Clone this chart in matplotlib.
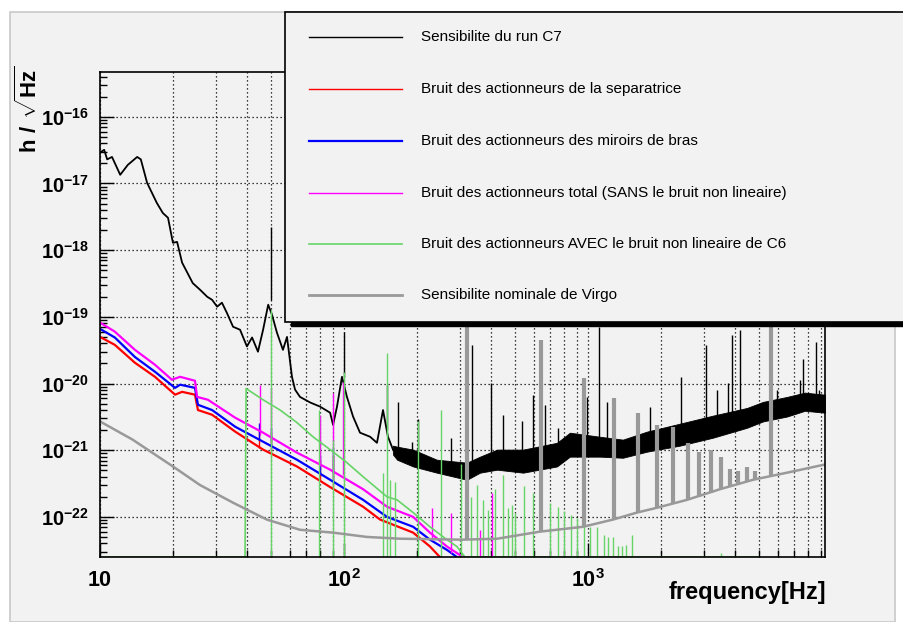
import numpy as np
import matplotlib
matplotlib.use("Agg")
import matplotlib.pyplot as plt
from matplotlib.patches import Rectangle
from matplotlib.lines import Line2D
from matplotlib.ticker import LogLocator, FixedLocator, FuncFormatter, NullFormatter

plt.rcParams['font.family'] = ['Liberation Sans', 'DejaVu Sans']
plt.rcParams['mathtext.fontset'] = 'custom'
plt.rcParams['mathtext.rm'] = 'Liberation Sans'
plt.rcParams['mathtext.bf'] = 'Liberation Sans:bold'

# Sensibilite du run C7 (low frequency part, single trace)
black_f = [10, 10.4, 10.7, 11.2, 12.1, 13.0, 14.2, 14.7, 15.6, 17.1, 18.1, 19.0, 19.9, 20.7, 21.7,
           24.0, 25.7, 27.5, 28.8, 30.2, 31.6, 33.1, 35.1, 37.5, 40.0, 42.0, 44.4, 46.6, 48.9, 50.7,
           53.1, 56.2, 58.4, 61.2, 63.0, 66.0, 72.6, 79.8, 87.7, 90.2, 93.6, 98.1, 102.8, 108.9, 116.3,
           127.9, 136.5, 144.5, 151.4, 158.8, 165]
black_v = [2.9e-17, 3.2e-17, 2.3e-17, 2.5e-17, 1.35e-17, 1.9e-17, 2.5e-17, 2.3e-17, 1.02e-17, 5.1e-18,
           3.6e-18, 3.06e-18, 1.29e-18, 1.33e-18, 6.5e-19, 3.2e-19, 2.55e-19, 2.0e-19, 1.8e-19, 1.42e-19,
           1.63e-19, 1.15e-19, 7.1e-20, 6.4e-20, 3.6e-20, 4.9e-20, 3.0e-20, 6.4e-20, 1.52e-19, 1.07e-19,
           5.8e-20, 3.2e-20, 5.0e-20, 1.26e-20, 8.1e-21, 6.3e-21, 5.2e-21, 4.5e-21, 3.65e-21, 2.4e-21,
           4.5e-21, 1.26e-20, 6.3e-21, 3.2e-21, 1.83e-21, 1.59e-21, 1.29e-21, 4.0e-21, 1.59e-21, 1.02e-21,
           9.2e-22]
# high frequency part: noisy band (upper / lower envelope)
band_f = [158.8, 165, 192, 240, 319, 361, 424, 542, 746, 843, 1120, 1390, 1745, 2382, 3254, 4484,
          5215, 6546, 7745, 9360]
band_hi = [1.17e-21, 1.13e-21, 1.02e-21, 7.2e-22, 6.5e-22, 8.0e-22, 1.02e-21, 1.02e-21, 1.29e-21,
           1.83e-21, 1.59e-21, 1.44e-21, 1.9e-21, 2.5e-21, 3.3e-21, 4.3e-21, 5.3e-21, 6.3e-21, 7.3e-21,
           6.8e-21]
band_lo = [8.6e-22, 7.2e-22, 5.7e-22, 4.6e-22, 3.6e-22, 4.6e-22, 5.1e-22, 4.6e-22, 5.7e-22, 8.0e-22,
           8.0e-22, 7.7e-22, 9.5e-22, 1.17e-21, 1.54e-21, 2.17e-21, 2.7e-21, 3.2e-21, 3.9e-21, 3.65e-21]
bspike_f = [50.2, 100, 150, 166, 190, 201, 275, 335, 400, 448, 537, 596, 667, 754, 991, 1109, 1197,
            1795, 2404, 3047, 3383, 3753, 3893, 4198, 5955, 7396, 7605, 8590, 8845]
bspike_top = [2.24e-18, 6.0e-20, 9.6e-21, 5.3e-21, 1.34e-21, 2.9e-21, 1.54e-21, 3.8e-20, 1.03e-20,
              3.4e-21, 2.7e-21, 6.8e-21, 4.8e-21, 2.17e-21, 6.3e-21, 7.1e-20, 5.3e-21, 4.5e-21,
              1.26e-20, 3.8e-20, 8.1e-21, 1.03e-20, 5.4e-20, 6.4e-20, 8.1e-21, 1.13e-20, 2.3e-20,
              4.2e-20, 8.1e-21]
bspike_base = [1.8e-19, 1.26e-20, 2.03e-21, 9.2e-22, 7.7e-22, 7.7e-22, 6.1e-22, 6.1e-22, 7.2e-22,
               8.6e-22, 8.6e-22, 1.02e-21, 1.02e-21, 1.21e-21, 1.13e-21, 1.13e-21, 1.13e-21, 1.44e-21,
               1.9e-21, 2.4e-21, 2.4e-21, 2.9e-21, 2.9e-21, 3.4e-21, 4.5e-21, 5.3e-21, 5.3e-21,
               5.7e-21, 5.7e-21]

# Bruit des actionneurs total (magenta), miroirs de bras (blue), separatrice (red)
mag_f = [10, 11.5, 13.9, 16.8, 19.7, 21.3, 24.5, 25.0, 27.7, 35.8, 46.6, 64.1, 87.7, 119.7, 150, 192,
         225, 264, 307]
mag_v = [8.2e-20, 6.0e-20, 3.2e-20, 1.91e-20, 1.14e-20, 1.26e-20, 1.10e-20, 6.3e-21, 5.7e-21, 3.07e-21,
         1.83e-21, 9.2e-22, 5.1e-22, 2.6e-22, 1.42e-22, 1.0e-22, 5.8e-23, 3.6e-23, 2.5e-23]
mag_spike_f = [45.3, 50.2, 79.8, 90.2, 99.1, 230, 275, 361, 404]
mag_spike_top = [9.6e-21, 8.6e-21, 3.4e-21, 7.3e-21, 1.06e-20, 1.37e-22, 1.16e-22, 6.4e-23, 2.3e-22]
mag_spike_base = [1.7e-21, 1.44e-21, 5.7e-22, 5.1e-22, 4.3e-22, 4.55e-23, 2.9e-23, 2.5e-23, 2.5e-23]

blue_f = [10, 11.5, 13.9, 16.8, 20.3, 21.3, 24.5, 25.2, 28.8, 35.8, 46.6, 64.1, 87.7, 119.7, 150, 192,
          225, 264, 290]
blue_v = [6.6e-20, 4.9e-20, 2.5e-20, 1.5e-20, 8.6e-21, 9.6e-21, 8.6e-21, 4.8e-21, 4.0e-21, 2.25e-21,
          1.34e-21, 7.2e-22, 3.6e-22, 1.8e-22, 1.0e-22, 7.1e-23, 4.55e-23, 3.2e-23, 2.5e-23]
blue_spike_f = [44.9, 50.2, 79.8, 90.2]
blue_spike_top = [2.6e-21, 2.17e-21, 8.6e-22, 1.13e-21]
blue_spike_base = [1.44e-21, 1.21e-21, 4.6e-22, 3.6e-22]

red_f = [10, 11.5, 13.9, 16.8, 20.3, 21.7, 24.5, 25.2, 28.8, 35.8, 46.6, 64.1, 87.7, 119.7, 140.6,
         192, 225, 247]
red_v = [5.0e-20, 3.8e-20, 2.05e-20, 1.26e-20, 6.8e-21, 7.5e-21, 6.8e-21, 4.0e-21, 3.4e-21, 1.9e-21,
         1.02e-21, 5.7e-22, 2.8e-22, 1.42e-22, 9.1e-23, 5.8e-23, 3.6e-23, 2.5e-23]
red_spike_f = [44.9, 50.2, 79.8, 90.2]
red_spike_top = [2.03e-21, 1.83e-21, 7.2e-22, 8.6e-22]
red_spike_base = [1.09e-21, 9.5e-22, 3.6e-22, 2.8e-22]

# Bruit des actionneurs AVEC le bruit non lineaire de C6
green_f = [10, 39.3, 39.7, 46.6, 54.7, 64.1, 74.6, 87.7, 102.8, 119.7, 150, 165, 192, 225, 264, 290,
           313, 4977]
green_v = [2.5e-23, 2.5e-23, 8.4e-21, 5.7e-21, 4.0e-21, 2.6e-21, 1.59e-21, 1.02e-21, 6.5e-22, 4.0e-22,
           2.0e-22, 1.8e-22, 1.16e-22, 7.1e-23, 4.55e-23, 3.6e-23, 2.5e-23, 2.5e-23]
green_spike_f = [50.2, 79.1, 90.2, 100, 150, 144.5, 154.5, 161.8, 201, 250, 302, 332, 351, 371, 389,
                 416, 448, 470, 488, 502, 547, 596, 698, 754, 798, 852, 901, 963, 1019, 1088, 1163,
                 1208, 1265, 1327, 1377, 1431, 1514, 3510]
green_spike_top = [1.28e-19, 4.0e-21, 1.44e-21, 1.5e-20, 2.9e-20, 4.6e-22, 3.6e-22, 3.3e-22, 2.7e-21,
                   4.0e-21, 6.1e-22, 2.0e-22, 3.0e-22, 1.8e-22, 1.28e-22, 2.6e-22, 4.3e-22, 1.37e-22,
                   1.52e-22, 1.16e-22, 2.9e-22, 2.3e-22, 1.63e-22, 1.42e-22, 1.24e-22, 1.08e-22,
                   9.7e-23, 9.1e-23, 7.1e-23, 7.1e-23, 5.4e-23, 5.0e-23, 5.0e-23, 3.6e-23, 3.6e-23,
                   3.8e-23, 5.4e-23, 2.9e-23]

# Sensibilite nominale de Virgo
gray_f = [10, 13.6, 19.9, 25.7, 35.1, 48.3, 66.0, 90.2, 124, 170, 307, 424, 635, 955, 1265, 1588, 1918,
          2545, 3475, 4747, 6546, 9360]
gray_v = [2.7e-21, 1.44e-21, 5.7e-22, 3.0e-22, 1.63e-22, 9.1e-23, 6.4e-23, 5.8e-23, 5.0e-23, 4.7e-23,
          4.55e-23, 4.7e-23, 6.0e-23, 7.1e-23, 9.1e-23, 1.16e-22, 1.37e-22, 1.8e-22, 2.6e-22, 3.6e-22,
          4.6e-22, 6.1e-22]
gray_spike_f = [319, 641, 964, 1280, 1603, 1918, 2230, 2570, 2851, 3193, 3510, 3819, 4120, 4484, 4833,
                5070, 5623]
gray_spike_top = [1e-18, 4.5e-20, 1.22e-20, 6.1e-21, 3.65e-21, 2.4e-21, 2.25e-21, 1.29e-21, 9.5e-22,
                  1.02e-21, 8.0e-22, 5.3e-22, 4.8e-22, 5.5e-22, 4.8e-22, 4.0e-22, 1e-18]
gray_spike_base = [4.55e-23, 6.0e-23, 7.1e-23, 9.1e-23, 1.16e-22, 1.37e-22, 1.63e-22, 1.8e-22, 2.0e-22,
                   2.3e-22, 2.6e-22, 2.8e-22, 3.0e-22, 3.4e-22, 3.6e-22, 3.9e-22, 4.1e-22]

labels = ["Sensibilite du run C7",
          "Bruit des actionneurs de la separatrice",
          "Bruit des actionneurs des miroirs de bras",
          "Bruit des actionneurs total (SANS le bruit non lineaire)",
          "Bruit des actionneurs AVEC le bruit non lineaire de C6",
          "Sensibilite nominale de Virgo"]
colors = ["black", "#ff0000", "#0000ff", "#ff00ff", "#66d466", "#999999"]
widths = [1.0, 1.0, 1.6, 1.0, 1.2, 2.0]
x_ticks = [10, 100, 1000]
x_ticklabels = [r"$\mathbf{10}$", r"$\mathbf{10^{2}}$", r"$\mathbf{10^{3}}$"]
y_ticks = [1e-22, 1e-21, 1e-20, 1e-19, 1e-18, 1e-17, 1e-16]

W, H = 904, 622
fig = plt.figure(figsize=(W / 100, H / 100), dpi=100, facecolor="white")


def fx(x):
    return x / W


def fy(y):
    return 1 - y / H


# grey canvas
fig.add_artist(Rectangle((fx(10), 0), fx(885), fy(12), transform=fig.transFigure,
                         facecolor="#f2f2f2", edgecolor="#c8c8c8", lw=1.2, zorder=-10))

ax = fig.add_axes([fx(100), fy(557), fx(725), (557 - 72) / H])
ax.set_facecolor("#f2f2f2")
ax.set_xscale("log")
ax.set_yscale("log")
ax.set_xlim(10, 9360)
ax.set_ylim(2.5e-23, 4.7e-16)
ymin = ax.get_ylim()[0]

# black: sensitivity of run C7
ax.fill_between(band_f, band_lo, band_hi, facecolor="black", edgecolor="black", lw=0.6, zorder=2)
ax.plot(black_f, black_v, color="black", lw=1.3, zorder=2)
ax.vlines(bspike_f, bspike_base, bspike_top, color="black", lw=1.0, zorder=2)

# actuator noises
ax.plot(red_f, red_v, color=colors[1], lw=1.6, zorder=3)
ax.vlines(red_spike_f, red_spike_base, red_spike_top, color=colors[1], lw=1.0, zorder=3)
ax.plot(blue_f, blue_v, color=colors[2], lw=1.6, zorder=3)
ax.vlines(blue_spike_f, blue_spike_base, blue_spike_top, color=colors[2], lw=1.0, zorder=3)
ax.plot(mag_f, mag_v, color=colors[3], lw=1.6, zorder=3)
ax.vlines(mag_spike_f, mag_spike_base, mag_spike_top, color=colors[3], lw=1.0, zorder=3)
ax.plot(green_f, green_v, color=colors[4], lw=1.2, zorder=4)
ax.vlines(green_spike_f, ymin, green_spike_top, color=colors[4], lw=1.0, zorder=4)

# nominal Virgo sensitivity
ax.plot(gray_f, gray_v, color=colors[5], lw=1.8, zorder=5)
ax.vlines(gray_spike_f, gray_spike_base, gray_spike_top, color=colors[5], lw=3.0, zorder=5)

# axes, ticks, grid
ax.xaxis.set_major_locator(FixedLocator(x_ticks))
ax.xaxis.set_minor_locator(LogLocator(base=10, subs=np.arange(2, 10), numticks=20))
ax.xaxis.set_minor_formatter(NullFormatter())
ax.set_xticklabels(x_ticklabels, fontsize=15.5)
ax.yaxis.set_major_locator(FixedLocator(y_ticks))
ax.yaxis.set_minor_locator(LogLocator(base=10, subs=np.arange(2, 10), numticks=20))
ax.yaxis.set_minor_formatter(NullFormatter())
ax.yaxis.set_major_formatter(FuncFormatter(lambda v, p: r"$\mathbf{10^{%d}}$" % round(np.log10(v))))
ax.tick_params(axis="y", which="major", direction="in", length=10, width=1, labelsize=14.5, pad=8)
ax.tick_params(axis="y", which="minor", direction="in", length=5, width=1)
ax.tick_params(axis="x", which="major", direction="in", length=10, width=1, pad=9)
ax.tick_params(axis="x", which="minor", direction="in", length=5, width=1)
ax.grid(True, which="major", axis="both", color="black", lw=0.9, ls=(0, (1, 2.2)), zorder=1)
ax.grid(True, which="minor", axis="x", color="black", lw=0.9, ls=(0, (1, 2.2)), zorder=1)
ax.set_axisbelow(True)
for s in ax.spines.values():
    s.set_linewidth(1.2)
    s.set_zorder(6)

fig.text(fx(826), fy(593), "frequency[Hz]", ha="right", va="center", fontsize=17, fontweight="bold")
fig.text(fx(29), fy(66), r"$\mathbf{h\ /\ \sqrt{Hz}}$", rotation=90, ha="center", va="top",
         fontsize=16)

# legend box with shadow
fig.add_artist(Rectangle((fx(291), fy(326)), fx(700), (326 - 18) / H, transform=fig.transFigure,
                         facecolor="black", edgecolor="black", zorder=20))
fig.add_artist(Rectangle((fx(285), fy(322)), fx(700), (322 - 12) / H, transform=fig.transFigure,
                         facecolor="#f2f2f2", edgecolor="black", lw=1.2, zorder=21))
entry_y = [37, 89, 141, 193, 244, 295]
for lab, c, lw, y in zip(labels, colors, widths, entry_y):
    fig.add_artist(Line2D([fx(309), fx(402)], [fy(y), fy(y)], transform=fig.transFigure,
                          color=c, lw=lw, zorder=22))
    fig.text(fx(421), fy(y), lab, ha="left", va="center", fontsize=11, zorder=22)

fig.savefig("out.png", dpi=100, facecolor=fig.get_facecolor())
